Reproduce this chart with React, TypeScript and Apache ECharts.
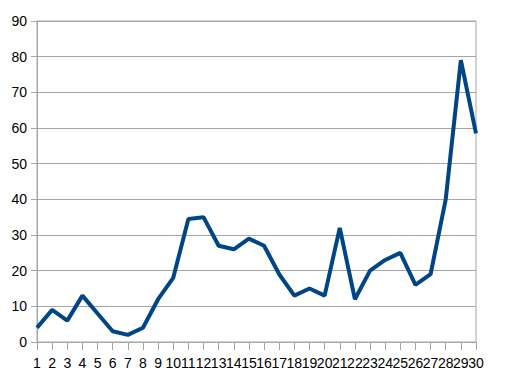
import React, { useEffect, useRef } from "react";
import * as echarts from "echarts";

const categories = Array.from({ length: 30 }, (_, i) => String(i + 1));
const values = [4, 9, 6, 13, 8, 3, 2, 4, 12, 18, 34.5, 35, 27, 26, 29, 27, 19, 13, 15, 13, 32, 12, 20, 23, 25, 16, 19, 40, 79, 58.5];

const GREY = "#a6a6a6";

export default function App() {
  const ref = useRef<HTMLDivElement>(null);
  useEffect(() => {
    if (!ref.current) return;
    const chart = echarts.init(ref.current, undefined, { renderer: "svg" });
    chart.setOption({
      animation: false,
      backgroundColor: "#ffffff",
      grid: { left: 37, right: 29, top: 21, bottom: 39, show: true, borderColor: GREY, borderWidth: 1, backgroundColor: "transparent" },
      xAxis: {
        type: "category",
        data: categories,
        boundaryGap: false,
        axisLine: { lineStyle: { color: GREY, width: 1 } },
        axisTick: { show: true, length: 8, interval: 0, lineStyle: { color: GREY } },
        axisLabel: { interval: 0, color: "#000", fontFamily: "Liberation Sans", fontSize: 14, margin: 14 },
        splitLine: { show: false },
      },
      yAxis: {
        type: "value",
        min: 0,
        max: 90,
        interval: 10,
        axisLine: { show: true, lineStyle: { color: GREY, width: 1 } },
        axisTick: { show: true, length: 6, lineStyle: { color: GREY } },
        axisLabel: { color: "#000", fontFamily: "Liberation Sans", fontSize: 14, margin: 10 },
        splitLine: { show: true, lineStyle: { color: GREY, width: 1 } },
      },
      series: [
        {
          type: "line",
          data: values,
          symbol: "none",
          lineStyle: { color: "#004586", width: 4 },
        },
      ],
    });
    return () => chart.dispose();
  }, []);
  return <div ref={ref} style={{ width: 505, height: 381, position: "absolute", left: 0, top: 0 }} />;
}
